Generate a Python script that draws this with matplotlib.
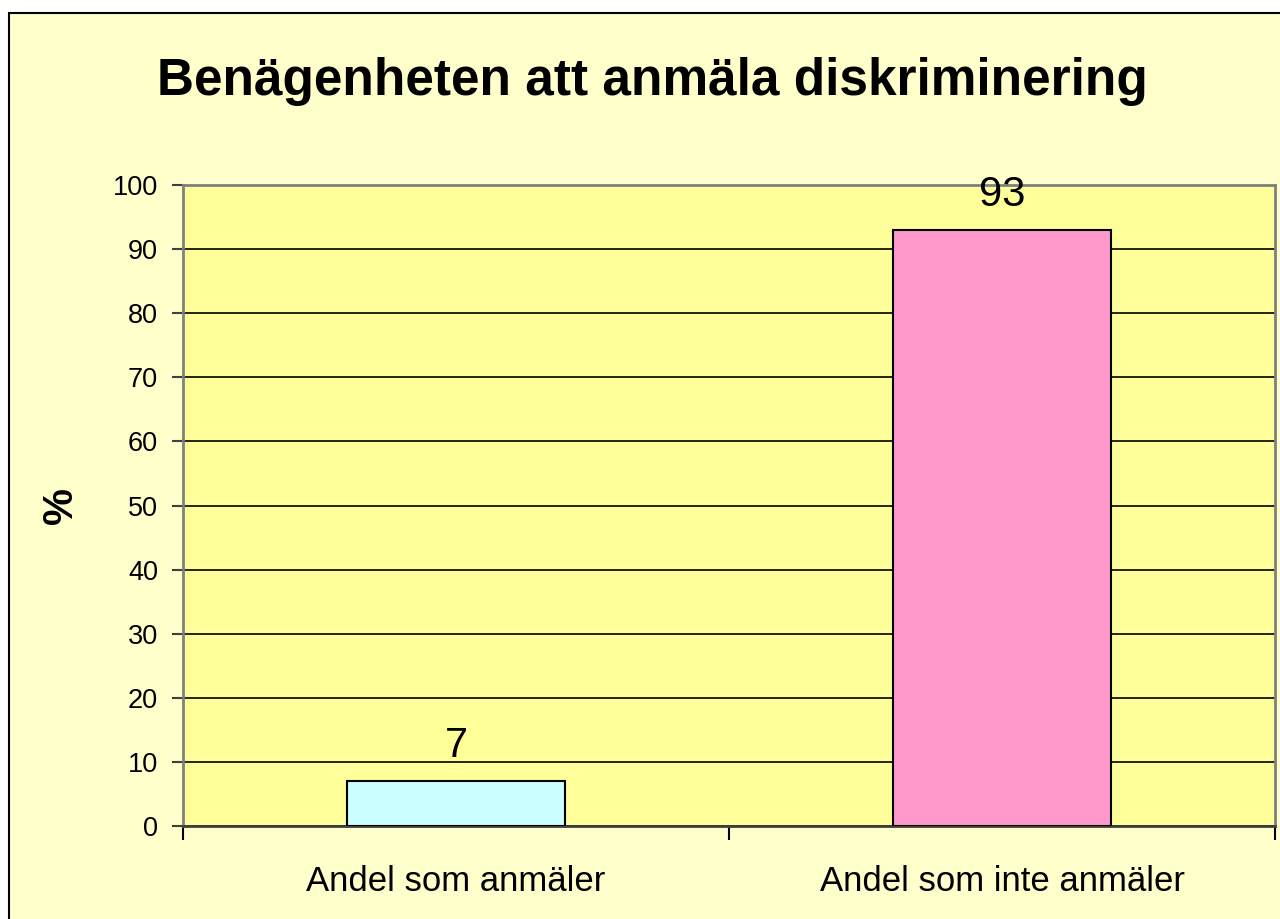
import matplotlib
matplotlib.use("Agg")
import matplotlib.pyplot as plt
from matplotlib.patches import Rectangle

categories = ["Andel som anmäler", "Andel som inte anmäler"]
values = [7, 93]
bar_colors = ["#CCFFFF", "#FF99CC"]
yticks = [0, 10, 20, 30, 40, 50, 60, 70, 80, 90, 100]
title = "Benägenheten att anmäla diskriminering"
ylabel = "%"

plt.rcParams['font.family'] = ['Liberation Sans', 'DejaVu Sans']

W, H = 1280, 919
fig = plt.figure(figsize=(W / 100, H / 100), dpi=100, facecolor="white")

# chart area background with border
fig.patches.append(Rectangle((9 / W, -0.1), 1.2, 1 - 13 / H + 0.1, transform=fig.transFigure,
                             facecolor="#FFFFCC", edgecolor="black", linewidth=1.5, zorder=-5))

ax = fig.add_axes([183 / W, 1 - 826 / H, (1275 - 183) / W, (826 - 185) / H])
ax.set_zorder(2)
ax.set_facecolor("#FFFF99")

x = list(range(len(categories)))
bars = ax.bar(x, values, width=0.4, color=bar_colors, edgecolor="black", linewidth=1.5, zorder=3)
for xi, v in zip(x, values):
    ax.annotate(str(v), (xi, v), xytext=(0, 11), textcoords="offset points",
                ha="center", va="bottom", fontsize=30, color="black")

ax.set_xlim(-0.5, len(categories) - 0.5)
ax.set_ylim(0, 100)
ax.set_yticks(yticks)
ax.set_yticklabels([str(t) for t in yticks])
ax.set_xticks(x)
ax.set_xticklabels(categories)
ax.tick_params(axis="x", which="major", length=0, pad=28, labelsize=25)
ax.tick_params(axis="y", length=8, width=1.5, color="#404040", pad=10, direction="out", labelsize=19.5)

# category boundary ticks
ax.set_xticks([-0.5, 0.5, 1.5], minor=True)
ax.tick_params(axis="x", which="minor", length=10, width=1.5, color="black", direction="out")

ax.yaxis.grid(True, color="black", linewidth=1.2, zorder=1)
ax.set_axisbelow(True)

for side in ["top", "right", "left"]:
    ax.spines[side].set_color("#808080")
    ax.spines[side].set_linewidth(2)
ax.spines["bottom"].set_color("#404040")
ax.spines["bottom"].set_linewidth(2)

ax.set_ylabel(ylabel, fontsize=30, fontweight="bold")
ax.yaxis.set_label_coords(-0.093, 0.5)

fig.text(652 / W, 1 - 82 / H, title, ha="center", va="center", fontsize=37, fontweight="bold")

fig.savefig("out.png", dpi=100, facecolor=fig.get_facecolor())
